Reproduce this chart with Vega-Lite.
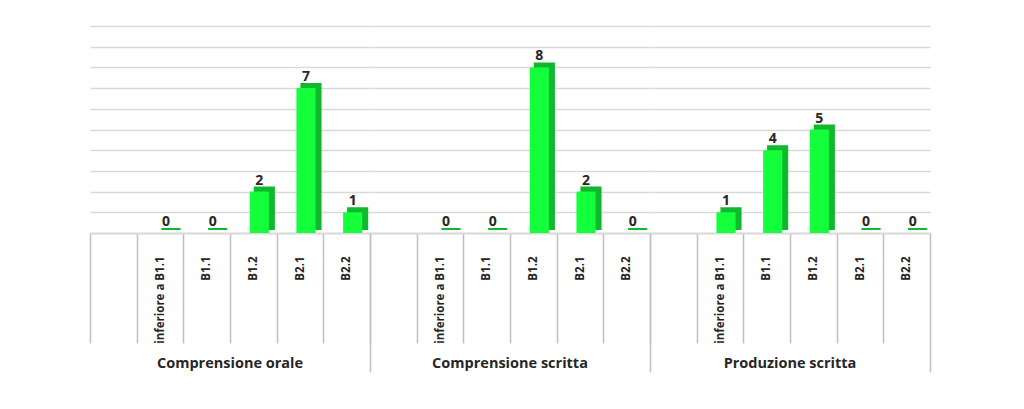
{
  "$schema": "https://vega.github.io/schema/vega-lite/v6.json",
  "background": "white",
  "padding": {"left": 84, "top": 26, "right": 10, "bottom": 5},
  "config": {"view": {"stroke": null}},
  "data": {
    "values": [
      {"gruppo": "Comprensione  orale", "livello": "inferiore a B1.1", "n": 0},
      {"gruppo": "Comprensione  orale", "livello": "B1.1", "n": 0},
      {"gruppo": "Comprensione  orale", "livello": "B1.2", "n": 2},
      {"gruppo": "Comprensione  orale", "livello": "B2.1", "n": 7},
      {"gruppo": "Comprensione  orale", "livello": "B2.2", "n": 1},
      {"gruppo": "Comprensione scritta", "livello": "inferiore a B1.1", "n": 0},
      {"gruppo": "Comprensione scritta", "livello": "B1.1", "n": 0},
      {"gruppo": "Comprensione scritta", "livello": "B1.2", "n": 8},
      {"gruppo": "Comprensione scritta", "livello": "B2.1", "n": 2},
      {"gruppo": "Comprensione scritta", "livello": "B2.2", "n": 0},
      {"gruppo": "Produzione  scritta", "livello": "inferiore a B1.1", "n": 1},
      {"gruppo": "Produzione  scritta", "livello": "B1.1", "n": 4},
      {"gruppo": "Produzione  scritta", "livello": "B1.2", "n": 5},
      {"gruppo": "Produzione  scritta", "livello": "B2.1", "n": 0},
      {"gruppo": "Produzione  scritta", "livello": "B2.2", "n": 0}
    ]
  },
  "facet": {
    "column": {
      "field": "gruppo",
      "type": "nominal",
      "sort": ["Comprensione  orale", "Comprensione scritta", "Produzione  scritta"],
      "header": {
        "title": null,
        "labelOrient": "bottom",
        "labelFont": "Open Sans",
        "labelFontWeight": "bold",
        "labelFontSize": 14.5,
        "labelColor": "#262626",
        "labelPadding": -9,
        "labelBaseline": "middle"
      }
    }
  },
  "spacing": 0,
  "spec": {
    "width": 280,
    "height": 207,
    "encoding": {
      "x": {
        "field": "livello",
        "type": "nominal",
        "scale": {
          "domain": [" ", "inferiore a B1.1", "B1.1", "B1.2", "B2.1", "B2.2"],
          "paddingInner": 0,
          "paddingOuter": 0
        },
        "axis": {
          "title": null,
          "labelAngle": -90,
          "labelAlign": "right",
          "labelBaseline": "middle",
          "labelFont": "Open Sans",
          "labelFontWeight": "bold",
          "labelFontSize": 11.5,
          "labelColor": "#262626",
          "labelPadding": {"condition": {"test": "datum.value === 'B2.2'", "value": -116}, "value": -87},
          "tickBand": "extent",
          "tickColor": "#bfbfbf",
          "tickWidth": 1.5,
          "tickSize": {"condition": {"test": "datum.value === 'B2.2'", "value": 139}, "value": 110},
          "domainColor": "#bfbfbf",
          "domainWidth": 1.5
        }
      },
      "y": {
        "field": "n",
        "type": "quantitative",
        "scale": {"domain": [0, 10]},
        "axis": {
          "title": null,
          "labels": false,
          "ticks": false,
          "domain": false,
          "grid": true,
          "gridColor": "#d9d9d9",
          "gridWidth": 1.5,
          "tickCount": 10
        }
      }
    },
    "layer": [
      {
        "mark": {"type": "bar", "color": "#10b82e", "stroke": "#10b82e", "strokeWidth": 2, "width": {"band": 0.41}, "xOffset": 11, "yOffset": -4}
      },
      {
        "mark": {"type": "bar", "color": "#14ff3c", "width": {"band": 0.41}, "xOffset": 6}
      },
      {
        "mark": {"type": "text", "baseline": "bottom", "dx": 6, "dy": -4, "font": "Open Sans", "fontWeight": "bold", "fontSize": 14, "color": "#262626"},
        "encoding": {"text": {"field": "n", "type": "quantitative"}}
      }
    ]
  }
}
